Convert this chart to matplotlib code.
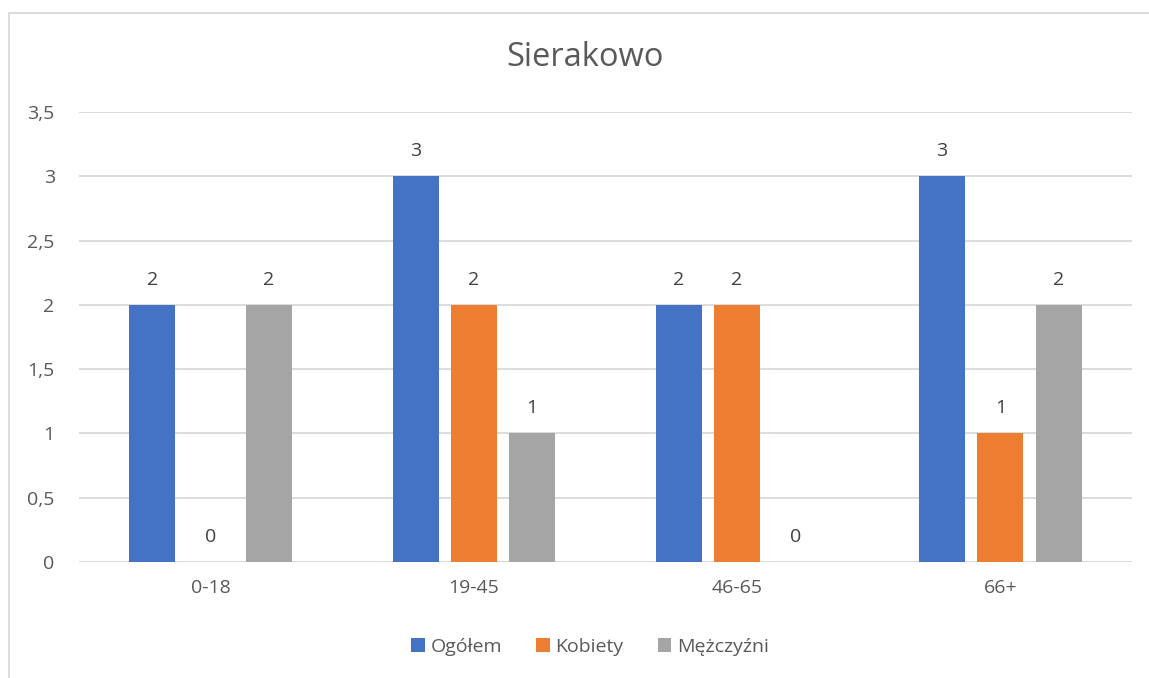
import matplotlib.pyplot as plt
from matplotlib.patches import Rectangle
from matplotlib.ticker import FuncFormatter
import numpy as np

plt.rcParams['font.family'] = ['Open Sans', 'DejaVu Sans']

# dane
kategorie = ['0-18', '19-45', '46-65', '66+']
ogolem = [2, 3, 2, 3]
kobiety = [0, 2, 2, 1]
mezczyzni = [2, 1, 0, 2]
serie = ['Ogółem', 'Kobiety', 'Mężczyźni']
kolory = ['#4472C4', '#ED7D31', '#A5A5A5']

W, H = 1149, 678
fig = plt.figure(figsize=(W / 100, H / 100), dpi=100)
ax = fig.add_axes([79 / W, 1 - 562 / H, (1132 - 79) / W, (562 - 112) / H])

# ramka wykresu
fig.patches.append(Rectangle((9 / W, -0.1), 1.2, 1 - 13 / H + 0.1,
                             transform=fig.transFigure, fill=False,
                             edgecolor='#D9D9D9', linewidth=1.3))

fs = 14
x = np.arange(len(kategorie))
szer = 0.175
krok = 0.2215
for i, (wart, kol, nazwa) in enumerate(zip([ogolem, kobiety, mezczyzni], kolory, serie)):
    bars = ax.bar(x + (i - 1) * krok, wart, width=szer, color=kol, label=nazwa, zorder=3)
    for b, v in zip(bars, wart):
        ax.annotate(str(v), (b.get_x() + b.get_width() / 2, v), xytext=(0, 18),
                    textcoords='offset points', ha='center', va='center',
                    fontsize=fs, color='#404040')

ax.set_xlim(-0.5, len(kategorie) - 0.5)
ax.set_ylim(0, 3.5)
ax.set_yticks(np.arange(0, 3.51, 0.5))
ax.yaxis.set_major_formatter(FuncFormatter(lambda v, p: f'{v:g}'.replace('.', ',')))
ax.set_xticks(x)
ax.set_xticklabels(kategorie)
ax.grid(axis='y', color='#D9D9D9', linewidth=1.3, zorder=0)
for s in ax.spines.values():
    s.set_visible(False)
ax.tick_params(axis='both', length=0, labelsize=fs, labelcolor='#595959')
ax.tick_params(axis='y', pad=17.5)
ax.tick_params(axis='x', pad=12)

fig.text(585 / W, 1 - 58 / H, 'Sierakowo', ha='center', va='center',
         fontsize=23.5, color='#595959')

fig.legend(loc='center', bbox_to_anchor=(590 / W, 1 - 647 / H), ncol=3, frameon=False,
           fontsize=fs, labelcolor='#595959', handlelength=0.7, handleheight=0.7,
           handletextpad=0.3, columnspacing=1.75)

fig.savefig('out.png', dpi=100)
